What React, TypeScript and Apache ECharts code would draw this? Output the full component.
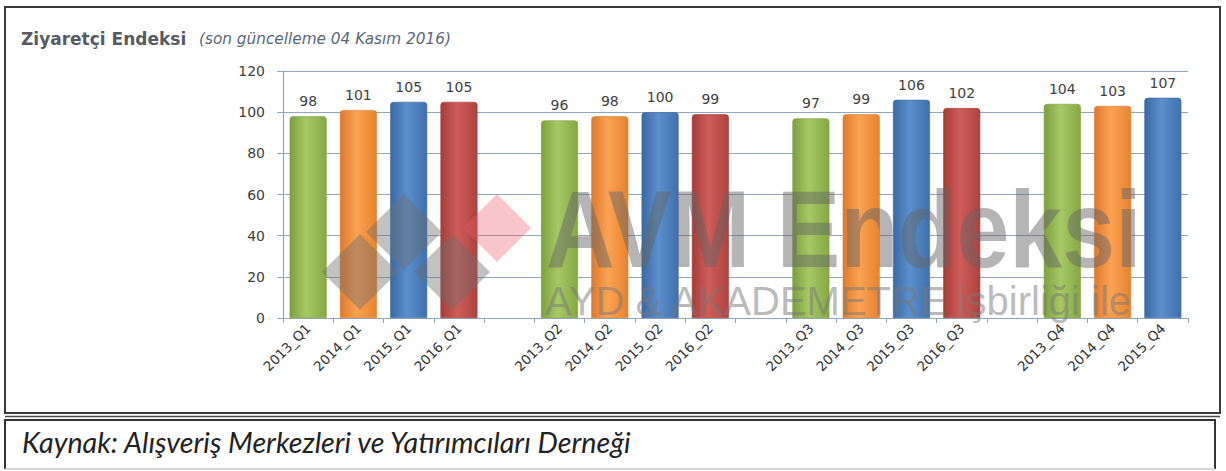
import React, { useEffect, useRef } from "react";
import * as echarts from "echarts";

const years = ["2013", "2014", "2015", "2016"];
const quarters = ["Q1", "Q2", "Q3", "Q4"];
const q1Values = [98, 101, 105, 105];
const q2Values = [96, 98, 100, 99];
const q3Values = [97, 99, 106, 102];
const q4Values = [104, 103, 107];
const quarterValues = [q1Values, q2Values, q3Values, q4Values];
const yTicks = [0, 20, 40, 60, 80, 100, 120];

const yearColors: Record<string, string[]> = {
  "2013": ["#7d9f3d", "#a6c865", "#86a844"],
  "2014": ["#de7a2c", "#fba253", "#e6842f"],
  "2015": ["#3a69a4", "#5c8fcd", "#3f70ad"],
  "2016": ["#a53c39", "#cf5d5a", "#ad423f"],
};

const gridColor = "#8fa8bf";
const fontUI = "'DejaVu Sans', Verdana, sans-serif";

function gradientFor(year: string) {
  const c = yearColors[year];
  return new echarts.graphic.LinearGradient(0, 0, 1, 0, [
    { offset: 0, color: c[0] },
    { offset: 0.45, color: c[1] },
    { offset: 1, color: c[2] },
  ]);
}

function buildData() {
  const categories: string[] = [];
  const data: any[] = [];
  quarterValues.forEach((vals, qi) => {
    vals.forEach((v, j) => {
      categories.push(`${years[j]}_${quarters[qi]}`);
      data.push({
        value: v,
        itemStyle: { color: gradientFor(years[j]), borderColor: yearColors[years[j]][0], borderWidth: 0.6 },
      });
    });
    if (qi < quarterValues.length - 1) {
      categories.push(" ".repeat(qi + 1));
      data.push("-");
    }
  });
  return { categories, data };
}

function diamond(cx: number, cy: number, h: number, fill: string) {
  return {
    type: "polygon",
    z: 100,
    silent: true,
    shape: { points: [[cx, cy - h], [cx + h, cy], [cx, cy + h], [cx - h, cy]] },
    style: { fill },
  };
}

export default function App() {
  const ref = useRef<HTMLDivElement>(null);
  useEffect(() => {
    if (!ref.current) return;
    const chart = echarts.init(ref.current, null, { renderer: "svg" });
    const { categories, data } = buildData();
    chart.setOption({
      animation: false,
      backgroundColor: "#ffffff",
      grid: { left: 283, right: 38, top: 71, bottom: 153, containLabel: false },
      xAxis: {
        type: "category",
        data: categories,
        axisLine: { show: true, lineStyle: { color: gridColor, width: 1.2 } },
        axisTick: { show: true, interval: 0, length: 5, lineStyle: { color: gridColor } },
        axisLabel: {
          interval: 0,
          rotate: 45,
          margin: 8,
          fontSize: 13.5,
          color: "#333333",
          fontFamily: fontUI,
        },
      },
      yAxis: {
        type: "value",
        min: yTicks[0],
        max: yTicks[yTicks.length - 1],
        interval: yTicks[1] - yTicks[0],
        axisLine: { show: true, lineStyle: { color: gridColor, width: 1.2 } },
        axisTick: { show: true, length: 6, lineStyle: { color: gridColor } },
        splitLine: { show: true, lineStyle: { color: gridColor, width: 1.2 } },
        axisLabel: { margin: 18, fontSize: 14, color: "#404040", fontFamily: fontUI },
      },
      series: [
        {
          type: "bar",
          data,
          barWidth: 37,
          itemStyle: { borderRadius: [3, 3, 0, 0] },
          label: {
            show: true,
            position: "top",
            distance: 8,
            fontSize: 14,
            color: "#404040",
            fontFamily: fontUI,
          },
        },
      ],
      graphic: [
        // watermark logo
        diamond(360, 272, 38, "rgba(110,110,110,0.42)"),
        diamond(404, 232, 38, "rgba(110,110,110,0.42)"),
        diamond(452, 272, 38, "rgba(110,110,110,0.42)"),
        diamond(497, 228, 34, "rgba(235,90,105,0.35)"),
        {
          type: "text",
          z: 100,
          silent: true,
          x: 546,
          y: 229,
          scaleX: 0.865,
          style: {
            text: "AVM Endeksi",
            fontFamily: "'Liberation Sans', Arial, sans-serif",
            fontWeight: "bold",
            fontSize: 110,
            fill: "rgba(100,100,100,0.48)",
            textVerticalAlign: "middle",
          },
        },
        {
          type: "text",
          z: 100,
          silent: true,
          x: 545,
          y: 301,
          style: {
            text: "AYD & AKADEMETRE işbirliği ile",
            fontFamily: "'Liberation Sans', Arial, sans-serif",
            fontSize: 40,
            fill: "rgba(120,120,120,0.5)",
            textVerticalAlign: "middle",
          },
        },
        // frames
        {
          type: "rect",
          z: 110,
          silent: true,
          shape: { x: 5, y: 7, width: 1215, height: 406 },
          style: { fill: "none", stroke: "#3a3a3a", lineWidth: 2 },
        },
        {
          type: "line",
          z: 110,
          silent: true,
          shape: { x1: 5, y1: 416.5, x2: 1220, y2: 416.5 },
          style: { stroke: "#4a4a4a", lineWidth: 1.5 },
        },
        {
          type: "polyline",
          z: 110,
          silent: true,
          shape: { points: [[5, 469], [5, 420], [1215, 420], [1215, 469]] },
          style: { fill: "none", stroke: "#333333", lineWidth: 2 },
        },
        {
          type: "line",
          z: 110,
          silent: true,
          shape: { x1: 5, y1: 469, x2: 1215, y2: 469 },
          style: { stroke: "#c8c8c8", lineWidth: 1.5 },
        },
        // titles
        {
          type: "text",
          z: 110,
          x: 21,
          y: 39,
          style: {
            text: "Ziyaretçi Endeksi",
            fontFamily: fontUI,
            fontWeight: "bold",
            fontSize: 17,
            fill: "#575b61",
            textVerticalAlign: "middle",
          },
        },
        {
          type: "text",
          z: 110,
          x: 199,
          y: 39,
          style: {
            text: "(son güncelleme 04 Kasım 2016)",
            fontFamily: fontUI,
            fontStyle: "italic",
            fontSize: 15.3,
            fill: "#5b6775",
            textVerticalAlign: "middle",
          },
        },
        {
          type: "text",
          z: 110,
          x: 22,
          y: 442,
          style: {
            text: "Kaynak: Alışveriş Merkezleri ve Yatırımcıları Derneği",
            fontFamily: "Lato, 'Open Sans', sans-serif",
            fontStyle: "italic",
            fontSize: 28.7,
            fill: "#222222",
            textVerticalAlign: "middle",
          },
        },
      ],
    });
    return () => chart.dispose();
  }, []);
  return (
    <div
      ref={ref}
      style={{ position: "absolute", left: 0, top: 0, width: 1226, height: 471 }}
    />
  );
}
